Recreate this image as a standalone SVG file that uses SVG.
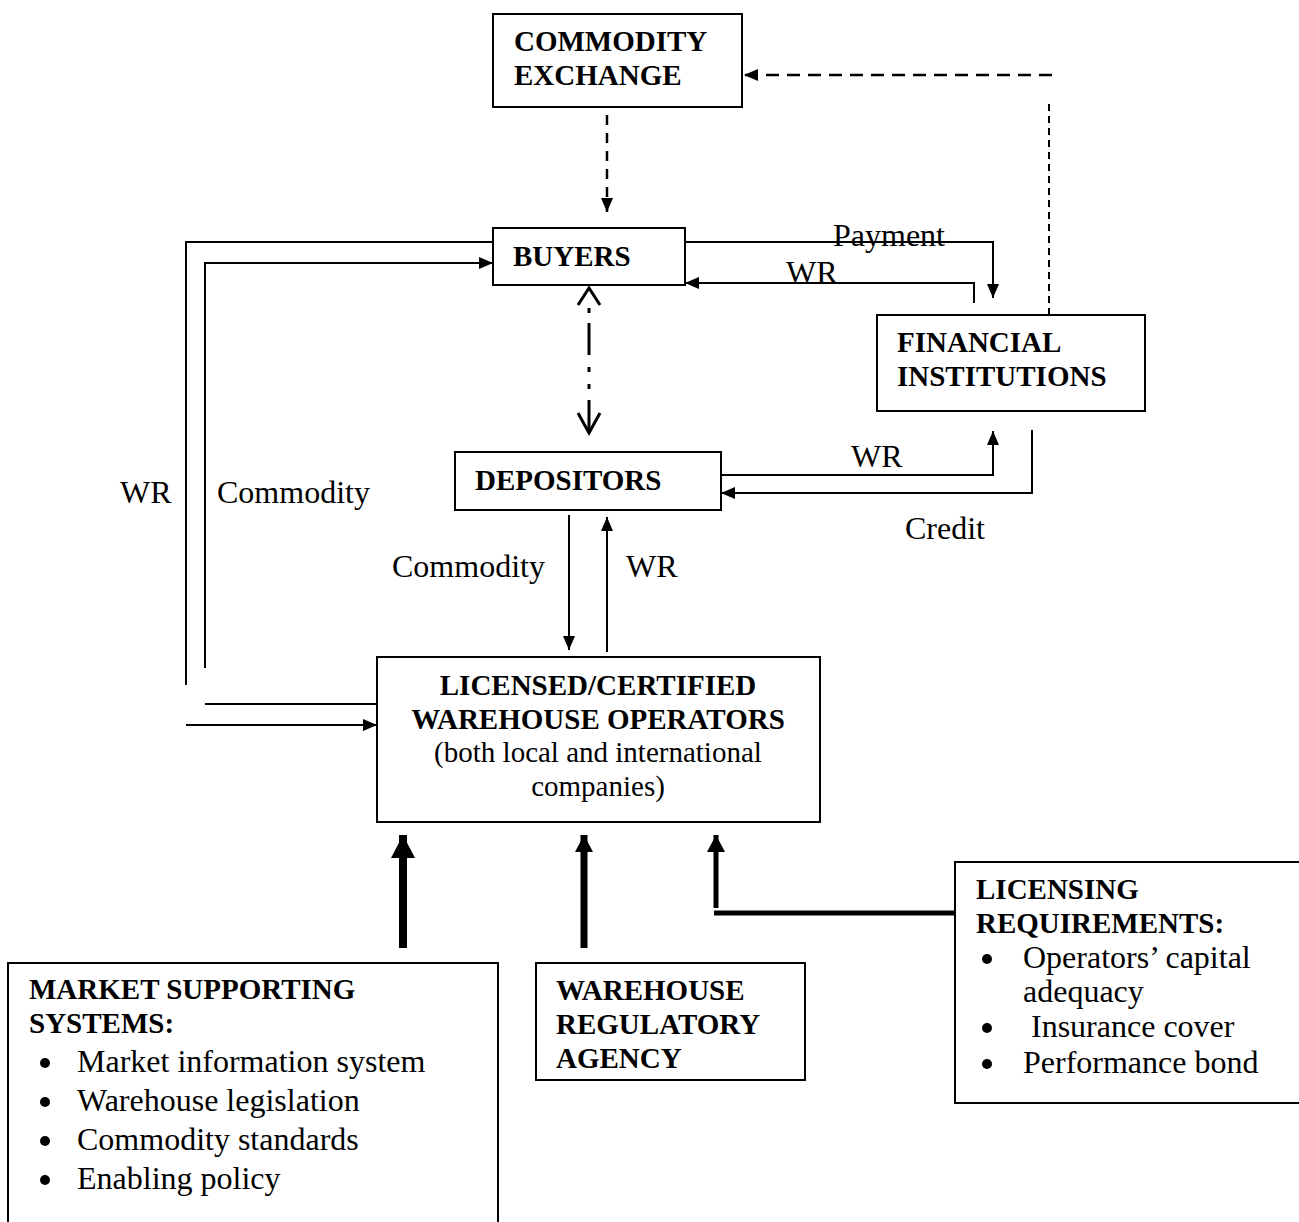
<svg xmlns="http://www.w3.org/2000/svg" width="1299" height="1222" viewBox="0 0 1299 1222">
<style>
.box{fill:#fff;stroke:#000;stroke-width:2}
.b{font-family:"Liberation Serif","Times New Roman",serif;font-weight:bold;font-size:29px;fill:#000}
.r{font-family:"Liberation Serif","Times New Roman",serif;font-size:32px;fill:#000}
.rs{font-family:"Liberation Serif","Times New Roman",serif;font-size:29px;fill:#000}
.ln{fill:none;stroke:#000;stroke-width:2}
.dash{fill:none;stroke:#000;stroke-width:2.5;stroke-dasharray:13 8}
.dashv{fill:none;stroke:#000;stroke-width:2.5;stroke-dasharray:10 8}
.dot{fill:none;stroke:#000;stroke-width:2;stroke-dasharray:7 5}
.dd{fill:none;stroke:#000;stroke-width:3}
.thick{fill:none;stroke:#000}
</style>
<defs>
<marker id="ah" markerUnits="userSpaceOnUse" markerWidth="14" markerHeight="12" refX="14" refY="6" orient="auto"><path d="M0,0 L14,6 L0,12 z" fill="#000"/></marker>
<marker id="ahB" markerUnits="userSpaceOnUse" markerWidth="23" markerHeight="24" refX="23" refY="12" orient="auto"><path d="M0,0 L23,12 L0,24 z" fill="#000"/></marker>
<marker id="ahM" markerUnits="userSpaceOnUse" markerWidth="17" markerHeight="18" refX="17" refY="9" orient="auto"><path d="M0,0 L17,9 L0,18 z" fill="#000"/></marker>
</defs>

<g id="connectors">
  <path class="dash" d="M1052,75 L744,75" marker-end="url(#ah)"/>
  <path class="dot" d="M1049,104 L1049,315"/>
  <path class="dashv" d="M607,115 L607,212" marker-end="url(#ah)"/>
  <path class="ln" d="M685,242 L993,242 L993,298" marker-end="url(#ah)"/>
  <path class="ln" d="M974,303 L974,283 L685,283" marker-end="url(#ah)"/>
  <g id="dashdot">
    <path class="dd" d="M578,305 L589,288 L600,305"/>
    <path class="dd" d="M589,308 L589,313 M589,323 L589,355 M589,367 L589,372 M589,384 L589,389 M589,400 L589,433"/>
    <path class="dd" d="M578,413 L589,433 L600,413"/>
  </g>
  <path class="ln" d="M721,475 L993,475 L993,431" marker-end="url(#ah)"/>
  <path class="ln" d="M1032,430 L1032,493 L721,493" marker-end="url(#ah)"/>
  <path class="ln" d="M569,515 L569,650" marker-end="url(#ah)"/>
  <path class="ln" d="M607,652 L607,517" marker-end="url(#ah)"/>
  <path class="ln" d="M186,685 L186,242 L493,242"/>
  <path class="ln" d="M205,668 L205,263 L493,263" marker-end="url(#ah)"/>
  <path class="ln" d="M205,704 L377,704"/>
  <path class="ln" d="M186,725 L377,725" marker-end="url(#ah)"/>
  <path class="thick" stroke-width="8" d="M403,948 L403,835" marker-end="url(#ahB)"/>
  <path class="thick" stroke-width="7" d="M584,948 L584,835" marker-end="url(#ahM)"/>
  <path class="thick" stroke-width="5" d="M716,908 L716,835" marker-end="url(#ahM)"/>
  <path class="thick" stroke-width="5" d="M714,913 L955,913"/>
</g>

<g id="labels">
  <text class="r" x="833" y="246">Payment</text>
  <text class="r" x="786" y="283">WR</text>
  <text class="r" x="851" y="467">WR</text>
  <text class="r" x="905" y="539">Credit</text>
  <text class="r" x="392" y="577">Commodity</text>
  <text class="r" x="626" y="577">WR</text>
  <text class="r" x="120" y="503">WR</text>
  <text class="r" x="217" y="503">Commodity</text>
</g>

<g id="commodity-exchange">
  <rect class="box" x="493" y="14" width="249" height="93"/>
  <text class="b" x="514" y="51">COMMODITY</text>
  <text class="b" x="514" y="85">EXCHANGE</text>
</g>

<g id="buyers">
  <rect class="box" x="493" y="228" width="192" height="57"/>
  <text class="b" x="513" y="266">BUYERS</text>
</g>

<g id="financial-institutions">
  <rect class="box" x="877" y="315" width="268" height="96"/>
  <text class="b" x="897" y="352">FINANCIAL</text>
  <text class="b" x="897" y="386">INSTITUTIONS</text>
</g>

<g id="depositors">
  <rect class="box" x="455" y="452" width="266" height="58"/>
  <text class="b" x="475" y="490">DEPOSITORS</text>
</g>

<g id="warehouse-operators">
  <rect class="box" x="377" y="657" width="443" height="165"/>
  <text class="b" x="598" y="695" text-anchor="middle">LICENSED/CERTIFIED</text>
  <text class="b" x="598" y="729" text-anchor="middle">WAREHOUSE OPERATORS</text>
  <text class="rs" x="598" y="762" text-anchor="middle">(both local and international</text>
  <text class="rs" x="598" y="796" text-anchor="middle">companies)</text>
</g>

<g id="market-supporting-systems">
  <rect class="box" x="8" y="963" width="490" height="270"/>
  <text class="b" x="29" y="999">MARKET SUPPORTING</text>
  <text class="b" x="29" y="1033">SYSTEMS:</text>
  <circle cx="45" cy="1063" r="5"/>
  <text class="r" x="77" y="1072">Market information system</text>
  <circle cx="45" cy="1102" r="5"/>
  <text class="r" x="77" y="1111">Warehouse legislation</text>
  <circle cx="45" cy="1141" r="5"/>
  <text class="r" x="77" y="1150">Commodity standards</text>
  <circle cx="45" cy="1180" r="5"/>
  <text class="r" x="77" y="1189">Enabling policy</text>
</g>

<g id="warehouse-regulatory-agency">
  <rect class="box" x="536" y="963" width="269" height="117"/>
  <text class="b" x="556" y="1000">WAREHOUSE</text>
  <text class="b" x="556" y="1034">REGULATORY</text>
  <text class="b" x="556" y="1068">AGENCY</text>
</g>

<g id="licensing-requirements">
  <rect class="box" x="955" y="862" width="350" height="241"/>
  <text class="b" x="976" y="899">LICENSING</text>
  <text class="b" x="976" y="933">REQUIREMENTS:</text>
  <circle cx="987" cy="959" r="5"/>
  <text class="r" x="1023" y="968">Operators’ capital</text>
  <text class="r" x="1023" y="1002">adequacy</text>
  <circle cx="987" cy="1028" r="5"/>
  <text class="r" x="1031" y="1037">Insurance cover</text>
  <circle cx="987" cy="1064" r="5"/>
  <text class="r" x="1023" y="1073">Performance bond</text>
</g>
</svg>
